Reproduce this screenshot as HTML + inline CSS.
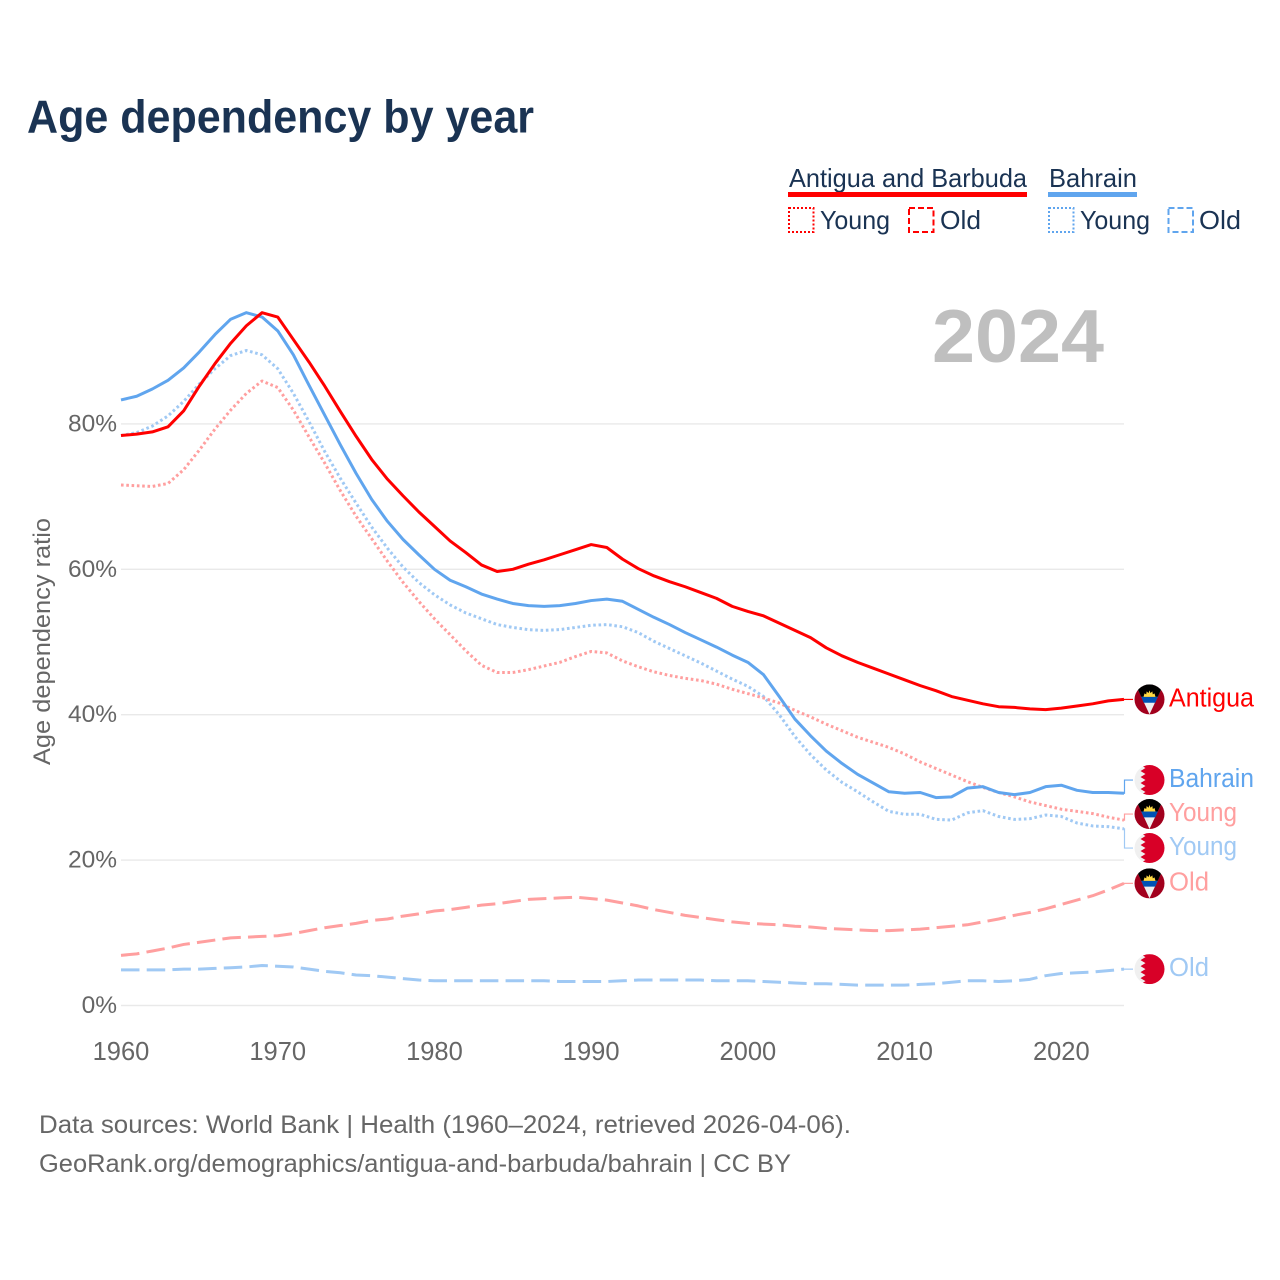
<!DOCTYPE html>
<html lang="en">
<head>
<meta charset="utf-8">
<title>Age dependency by year</title>
<style>
html,body{margin:0;padding:0;background:#fff;width:1280px;height:1280px;overflow:hidden}
svg{display:block}
text{font-family:"Liberation Sans",sans-serif}
</style>
</head>
<body>
<svg id="chart" xmlns="http://www.w3.org/2000/svg" width="1280" height="1280" viewBox="0 0 1280 1280">
  <defs>
    <clipPath id="flag-clip"><circle cx="0" cy="0" r="15"/></clipPath>
    <symbol id="flag-antigua" viewBox="-15 -15 30 30" overflow="visible">
      <g clip-path="url(#flag-clip)">
        <rect x="-15" y="-15" width="30" height="30" fill="#a2001d"/>
        <polygon points="-12,-15 12,-15 12,-10.7 0,15 -12,-10.7" fill="#f0f0f0"/>
        <polygon points="-12,-15 12,-15 12,-10.7 8.300,-2.500 -8.300,-2.500 -12,-10.700" fill="#000"/>
        <polygon points="-8.300,-2.500 8.300,-2.500 5.800,3.300 -5.800,3.300" fill="#0052b4"/>
        <polygon points="-6,-2.500 -5,-6 -3.300,-5 -2.800,-8 -1,-6.300 0,-9 1,-6.300 2.800,-8 3.300,-5 5,-6 6,-2.500" fill="#ffda44"/>
      </g>
    </symbol>
    <symbol id="flag-bahrain" viewBox="-15 -15 30 30" overflow="visible">
      <g clip-path="url(#flag-clip)">
        <rect x="-15" y="-15" width="30" height="30" fill="#f0f0f0"/>
        <polygon points="-9,-15 -4,-12 -9,-9 -4,-6 -9,-3 -4,0 -9,3 -4,6 -9,9 -4,12 -9,15 15,15 15,-15" fill="#d80027"/>
      </g>
    </symbol>
  </defs>

  <text x="27" y="132.5" font-size="46" font-weight="700" fill="#1a3353" textLength="507" lengthAdjust="spacingAndGlyphs">Age dependency by year</text>

  <g>
    <text x="789" y="187" font-size="26" fill="#1a3353" textLength="238" lengthAdjust="spacingAndGlyphs">Antigua and Barbuda</text>
    <rect x="788" y="192" width="239" height="5" fill="#ff0000"/>
    <text x="1049" y="187" font-size="26" fill="#1a3353" textLength="88" lengthAdjust="spacingAndGlyphs">Bahrain</text>
    <rect x="1048" y="192" width="89" height="5" fill="#60a5ee"/>

    <rect x="789" y="208" width="24.500" height="24" fill="none" stroke="#ff0000" stroke-width="2" stroke-dasharray="2 2"/>
    <text x="820" y="229" font-size="26" fill="#1a3353" textLength="70" lengthAdjust="spacingAndGlyphs">Young</text>
    <rect x="909" y="208" width="24.500" height="24" fill="none" stroke="#ff0000" stroke-width="2" stroke-dasharray="6 3"/>
    <text x="940" y="229" font-size="26" fill="#1a3353" textLength="41" lengthAdjust="spacingAndGlyphs">Old</text>

    <rect x="1049" y="208" width="24.500" height="24" fill="none" stroke="#60a5ee" stroke-width="2" stroke-dasharray="2 2"/>
    <text x="1080" y="229" font-size="26" fill="#1a3353" textLength="70" lengthAdjust="spacingAndGlyphs">Young</text>
    <rect x="1168.500" y="208" width="24.500" height="24" fill="none" stroke="#60a5ee" stroke-width="2" stroke-dasharray="6 3"/>
    <text x="1199" y="229" font-size="26" fill="#1a3353" textLength="42" lengthAdjust="spacingAndGlyphs">Old</text>
  </g>

  <text x="932" y="362" font-size="75" font-weight="700" fill="#bfbfbf" textLength="172" lengthAdjust="spacingAndGlyphs">2024</text>

  <text transform="translate(50,641.500) rotate(-90)" text-anchor="middle" font-size="24" fill="#666666" textLength="247" lengthAdjust="spacingAndGlyphs">Age dependency ratio</text>

  <g id="grid"></g>
  <g id="y-axis"></g>
  <g id="x-axis"></g>
  <g id="series"></g>
  <g id="end-labels"></g>

  <text x="39" y="1133" font-size="25" fill="#666666" textLength="812" lengthAdjust="spacingAndGlyphs">Data sources: World Bank | Health (1960–2024, retrieved 2026-04-06).</text>
  <text x="39" y="1172" font-size="25" fill="#666666" textLength="752" lengthAdjust="spacingAndGlyphs">GeoRank.org/demographics/antigua-and-barbuda/bahrain | CC BY</text>
</svg>

<script>
const years = [1960,1961,1962,1963,1964,1965,1966,1967,1968,1969,
  1970,1971,1972,1973,1974,1975,1976,1977,1978,1979,
  1980,1981,1982,1983,1984,1985,1986,1987,1988,1989,
  1990,1991,1992,1993,1994,1995,1996,1997,1998,1999,
  2000,2001,2002,2003,2004,2005,2006,2007,2008,2009,
  2010,2011,2012,2013,2014,2015,2016,2017,2018,2019,
  2020,2021,2022,2023,2024];
const xTickValues = [1960,1970,1980,1990,2000,2010,2020];
const yTickValues = [0,20,40,60,80];

const antiguaTotal = [78.4,78.6,78.9,79.6,81.8,85.2,88.3,91.1,93.5,95.3,
  94.7,91.6,88.5,85.2,81.7,78.3,75.1,72.4,70.1,67.9,
  65.9,63.9,62.3,60.6,59.7,60.0,60.7,61.3,62.0,62.7,
  63.4,63.0,61.4,60.1,59.1,58.3,57.6,56.8,56.0,54.9,
  54.2,53.6,52.6,51.6,50.6,49.2,48.1,47.2,46.4,45.6,
  44.8,44.0,43.3,42.5,42.0,41.5,41.1,41.0,40.8,40.7,
  40.9,41.2,41.5,41.9,42.1];
const bahrainTotal = [83.3,83.8,84.8,86.0,87.7,89.9,92.3,94.4,95.3,94.7,
  92.8,89.5,85.3,81.2,77.1,73.2,69.6,66.6,64.1,62.0,
  60.0,58.5,57.6,56.6,55.9,55.3,55.0,54.9,55.0,55.3,
  55.7,55.9,55.6,54.5,53.4,52.4,51.3,50.3,49.3,48.2,
  47.2,45.5,42.5,39.4,37.1,35.0,33.3,31.8,30.6,29.4,
  29.2,29.3,28.6,28.7,29.9,30.1,29.3,29.0,29.3,30.1,
  30.3,29.6,29.3,29.3,29.2];
const antiguaYoung = [71.6,71.5,71.4,71.8,73.7,76.4,79.3,81.9,84.2,85.9,
  85.0,81.9,78.2,74.6,70.8,67.3,64.2,61.1,58.2,55.6,
  53.2,51.0,48.8,46.8,45.8,45.8,46.2,46.7,47.2,48.0,
  48.7,48.5,47.4,46.6,45.9,45.4,45.0,44.7,44.2,43.5,
  42.9,42.3,41.6,40.6,39.7,38.7,37.8,36.9,36.2,35.5,
  34.6,33.5,32.6,31.7,30.8,30.0,29.3,28.7,28.0,27.5,
  27.0,26.7,26.4,25.9,25.5];
const bahrainYoung = [78.4,78.8,79.7,81.1,83.1,85.5,87.6,89.4,90.1,89.5,
  87.6,84.2,80.3,76.2,72.5,69.1,65.8,62.9,60.3,58.2,
  56.5,55.1,54.0,53.2,52.4,52.0,51.7,51.6,51.7,52.0,
  52.3,52.4,52.1,51.3,50.1,49.1,48.1,47.1,46.0,44.9,
  43.9,42.5,40.0,37.0,34.5,32.4,30.7,29.4,28.0,26.7,
  26.3,26.3,25.6,25.5,26.5,26.8,26.0,25.6,25.7,26.2,
  26.0,25.1,24.7,24.6,24.3];
const antiguaOld = [6.9,7.1,7.5,7.9,8.4,8.7,9.0,9.3,9.4,9.5,
  9.6,9.9,10.3,10.7,11.0,11.3,11.7,11.9,12.3,12.6,
  13.0,13.2,13.5,13.8,14.0,14.3,14.6,14.7,14.8,14.9,
  14.7,14.5,14.1,13.7,13.2,12.8,12.4,12.1,11.8,11.5,
  11.3,11.2,11.1,10.9,10.8,10.6,10.5,10.4,10.3,10.3,
  10.4,10.5,10.7,10.9,11.1,11.5,11.9,12.4,12.8,13.3,
  13.9,14.5,15.1,15.9,16.8];
const bahrainOld = [4.9,4.9,4.9,4.9,5.0,5.0,5.1,5.2,5.3,5.5,
  5.4,5.3,5.0,4.7,4.5,4.2,4.1,3.9,3.7,3.5,
  3.4,3.4,3.4,3.4,3.4,3.4,3.4,3.4,3.3,3.3,
  3.3,3.3,3.4,3.5,3.5,3.5,3.5,3.5,3.4,3.4,
  3.4,3.3,3.2,3.1,3.0,3.0,2.9,2.8,2.8,2.8,
  2.8,2.9,3.0,3.2,3.4,3.4,3.3,3.4,3.6,4.1,
  4.4,4.5,4.6,4.8,5.0];

const SVG_NS = 'http://www.w3.org/2000/svg';
const xScale = v => 121 + (v - 1960) * (1003 / 64);
const yScale = v => 1005.5 - v * 7.27;

function mk(tag, attrs, parent, txt) {
  const el = document.createElementNS(SVG_NS, tag);
  for (const k in attrs) el.setAttribute(k, attrs[k]);
  if (txt !== undefined) el.textContent = txt;
  parent.appendChild(el);
  return el;
}

const gridG = document.getElementById('grid');
const yG = document.getElementById('y-axis');
const xG = document.getElementById('x-axis');
const seriesG = document.getElementById('series');
const labelsG = document.getElementById('end-labels');

yTickValues.forEach(v => {
  const line = mk('line', {x1: 121, x2: 1124, y1: yScale(v), y2: yScale(v), stroke: '#e9e9e9', 'stroke-width': 1.4}, gridG);
  
  
  const t = mk('text', {x: 117, y: yScale(v) + 7.5, 'text-anchor': 'end', 'font-size': 24.5, fill: '#666666'}, yG, v + '%');
  
  
});

xTickValues.forEach(v => {
  const t = mk('text', {x: xScale(v), y: 1060, 'text-anchor': 'middle', 'font-size': 25.5, fill: '#666666'}, xG, String(v));
  
  
});

const RED = '#ff0000', BLUE = '#60a5ee', PALE_RED = '#ff9f9f', PALE_BLUE = '#a0c9f4';
const seriesDefs = [
  {key: 'bahrain-old', values: bahrainOld, color: PALE_BLUE, dash: '18.500 7.200', width: 3, label: 'Old', flag: 'flag-bahrain'},
  {key: 'antigua-old', values: antiguaOld, color: PALE_RED, dash: '18.500 7.200', width: 3, label: 'Old', flag: 'flag-antigua'},
  {key: 'bahrain-young', values: bahrainYoung, color: PALE_BLUE, dash: '2.600 2.700', width: 3, label: 'Young', flag: 'flag-bahrain'},
  {key: 'antigua-young', values: antiguaYoung, color: PALE_RED, dash: '2.600 2.700', width: 3, label: 'Young', flag: 'flag-antigua'},
  {key: 'bahrain-total', values: bahrainTotal, color: BLUE, dash: '', width: 3, label: 'Bahrain', flag: 'flag-bahrain'},
  {key: 'antigua-total', values: antiguaTotal, color: RED, dash: '', width: 3, label: 'Antigua', flag: 'flag-antigua'}
];

seriesDefs.forEach(s => {
  const pts = s.values.map((v, i) => xScale(years[i]).toFixed(2) + ',' + yScale(v).toFixed(2)).join(' ');
  const attrs = {points: pts, fill: 'none', stroke: s.color, 'stroke-width': s.width, 'stroke-linejoin': 'round'};
  if (s.dash) attrs['stroke-dasharray'] = s.dash;
  const line = mk('polyline', attrs, seriesG);
  
  
});

/* Spread end labels so that neighbours keep a minimum vertical gap. */
const MIN_GAP = 34;
const ordered = seriesDefs.map(s => ({s: s, y0: yScale(s.values[s.values.length - 1])})).sort((a, b) => a.y0 - b.y0);
let clusters = ordered.map(o => ({items: [o], mean: o.y0}));
let merged = true;
while (merged) {
  merged = false;
  for (let i = 0; i < clusters.length - 1; i++) {
    const a = clusters[i], b = clusters[i + 1];
    const aEnd = a.mean + (a.items.length - 1) * MIN_GAP / 2;
    const bStart = b.mean - (b.items.length - 1) * MIN_GAP / 2;
    if (bStart - aEnd < MIN_GAP) {
      const items = a.items.concat(b.items);
      const mean = items.reduce((t, o) => t + o.y0, 0) / items.length;
      clusters.splice(i, 2, {items: items, mean: mean});
      merged = true;
      break;
    }
  }
}
clusters.forEach(c => c.items.forEach((o, i) => {
  o.y = c.mean + (i - (c.items.length - 1) / 2) * MIN_GAP;
}));

ordered.forEach(o => {
  const s = o.s;
  const conn = mk('polyline', {
    points: '1124,' + o.y0 + ' 1124.5,' + o.y0 + ' 1124.5,' + o.y + ' 1133,' + o.y,
    fill: 'none', stroke: s.color, 'stroke-width': 1.2
  }, labelsG);
  
  

  const flag = mk('use', {href: '#' + s.flag, x: 1134.5, y: o.y - 15, width: 30, height: 30}, labelsG);
  
  

  const widths = {Antigua: 85, Bahrain: 85, Young: 68, Old: 40};
  const t = mk('text', {x: 1169, y: o.y + 7, 'font-size': 25.5, fill: s.color, textLength: widths[s.label], lengthAdjust: 'spacingAndGlyphs'}, labelsG, s.label);
  
  
});
</script>
</body>
</html>
